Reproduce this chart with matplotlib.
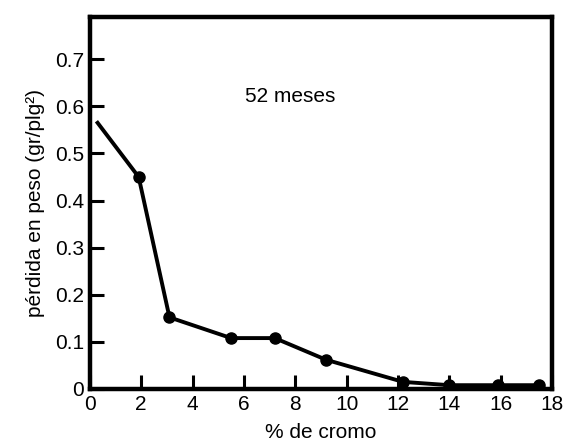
import matplotlib
matplotlib.use('Agg')
import matplotlib.pyplot as plt

# datos (52 meses)
cromo = [0.3, 1.9, 3.1, 5.5, 7.2, 9.2, 12.2, 14.0, 15.9, 17.5]
perdida = [0.565, 0.45, 0.152, 0.108, 0.108, 0.062, 0.015, 0.008, 0.008, 0.008]

x_ticks = [0, 2, 4, 6, 8, 10, 12, 14, 16, 18]
y_ticks = [0, 0.1, 0.2, 0.3, 0.4, 0.5, 0.6, 0.7]

plt.rcParams['font.family'] = ['Liberation Sans', 'DejaVu Sans']

fig = plt.figure(figsize=(5.69, 4.43), dpi=100)
ax = fig.add_axes([0.158, 0.122, 0.812, 0.840])

ax.plot(cromo, perdida, color='black', lw=2.8)
ax.plot(cromo[1:], perdida[1:], 'o', color='black', ms=8)

ax.text(7.8, 0.62, '52 meses', ha='center', va='center', fontsize=15)

ax.set_xlim(0, 18)
ax.set_ylim(0, 0.79)
ax.set_xticks(x_ticks)
ax.set_yticks(y_ticks)
ax.set_yticklabels(['0', '0.1', '0.2', '0.3', '0.4', '0.5', '0.6', '0.7'])
ax.tick_params(direction='in', length=10, width=2.2, labelsize=15, pad=4)

for s in ax.spines.values():
    s.set_linewidth(3.2)

ax.set_xlabel('% de cromo', fontsize=15, labelpad=7)
ax.set_ylabel('pérdida en peso (gr/plg²)', fontsize=15, labelpad=7)

fig.savefig('out.png', dpi=100)
